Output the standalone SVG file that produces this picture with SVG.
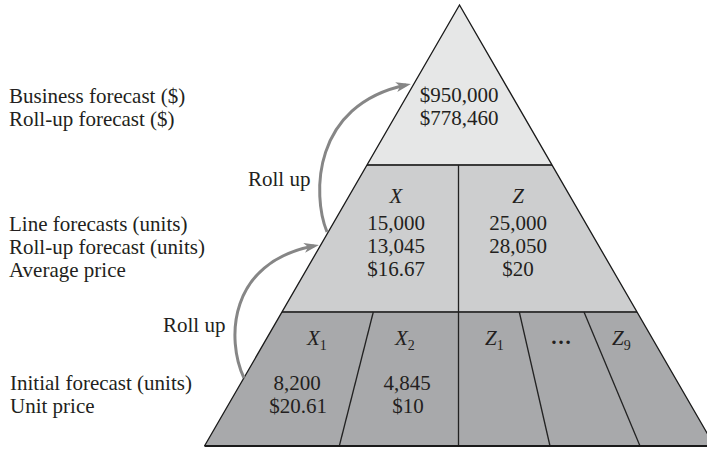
<svg xmlns="http://www.w3.org/2000/svg" width="707" height="449" viewBox="0 0 707 449">
<style>
text{font-family:"Liberation Serif","Times New Roman",serif;font-size:21px;fill:#231f20}
.c{text-anchor:middle}
.i{font-style:italic}
.sub{font-style:normal;font-size:14px}
.edge{stroke:#1a1a1a;stroke-width:1.3;fill:none}
.tier{stroke:#3a3a3a;stroke-width:2;fill:none}
.div{stroke:#222;stroke-width:1.3;fill:none}
.arr{stroke:#868686;stroke-width:3;fill:none;marker-end:url(#ah)}
</style>
<defs>
<marker id="ah" markerUnits="userSpaceOnUse" markerWidth="16" markerHeight="12" refX="10" refY="5" orient="auto">
<path d="M0,0 L15,5 L0,10 L4,5 z" fill="#868686"/>
</marker>
</defs>
<rect width="707" height="449" fill="#ffffff"/>
<g id="labels">
<text x="9" y="103">Business forecast ($)</text>
<text x="9" y="126">Roll-up forecast ($)</text>
<text x="9" y="231">Line forecasts (units)</text>
<text x="9" y="254">Roll-up forecast (units)</text>
<text x="9" y="277">Average price</text>
<text x="10" y="390">Initial forecast (units)</text>
<text x="10" y="413">Unit price</text>
</g>
<g id="top-tier">
<polygon points="459.5,5 367,165 552,165" fill="#e6e7e7"/>
<text class="c" x="459" y="102">$950,000</text>
<text class="c" x="459" y="125">$778,460</text>
</g>
<g id="middle-tier">
<polygon points="367,165 552,165 637,312 282,312" fill="#cdcecf"/>
<text class="c i" x="396" y="203">X</text>
<text class="c" x="396" y="230">15,000</text>
<text class="c" x="396" y="253">13,045</text>
<text class="c" x="396" y="276">$16.67</text>
<text class="c i" x="518" y="203">Z</text>
<text class="c" x="518" y="230">25,000</text>
<text class="c" x="518" y="253">28,050</text>
<text class="c" x="518" y="276">$20</text>
</g>
<g id="bottom-tier">
<polygon points="282,312 637,312 714.5,446 204.5,446" fill="#a8a9ab"/>
<text class="i" x="307" y="345">X<tspan class="sub" dy="5">1</tspan></text>
<text class="i" x="395" y="345">X<tspan class="sub" dy="5">2</tspan></text>
<text class="i" x="485" y="345">Z<tspan class="sub" dy="5">1</tspan></text>
<text class="c" x="561" y="344" font-weight="bold">…</text>
<text class="i" x="612" y="345">Z<tspan class="sub" dy="5">9</tspan></text>
<text class="c" x="297" y="390">8,200</text>
<text class="c" x="298" y="413">$20.61</text>
<text class="c" x="407" y="390">4,845</text>
<text class="c" x="408" y="413">$10</text>
</g>
<g id="lines">
<line class="tier" x1="367" y1="165" x2="552" y2="165"/>
<line class="tier" x1="282" y1="312" x2="637" y2="312"/>
<line class="div" x1="458.5" y1="165" x2="458.5" y2="446"/>
<line class="div" x1="373.3" y1="312" x2="339.3" y2="446"/>
<line class="div" x1="519.3" y1="312" x2="550" y2="446"/>
<line class="div" x1="584" y1="312" x2="640" y2="446"/>
<polyline class="edge" points="204.5,446 459.5,5 714.5,446"/>
<line x1="204.5" y1="446" x2="714.5" y2="446" stroke="#1a1a1a" stroke-width="2"/>
</g>
<g id="connectors">
<path class="arr" d="M244,378 C226,340 228,262 314,246"/>
<path class="arr" d="M327,232 C312,195 312,105 406,85"/>
<text x="248" y="186">Roll up</text>
<text x="163" y="332">Roll up</text>
</g>
</svg>
